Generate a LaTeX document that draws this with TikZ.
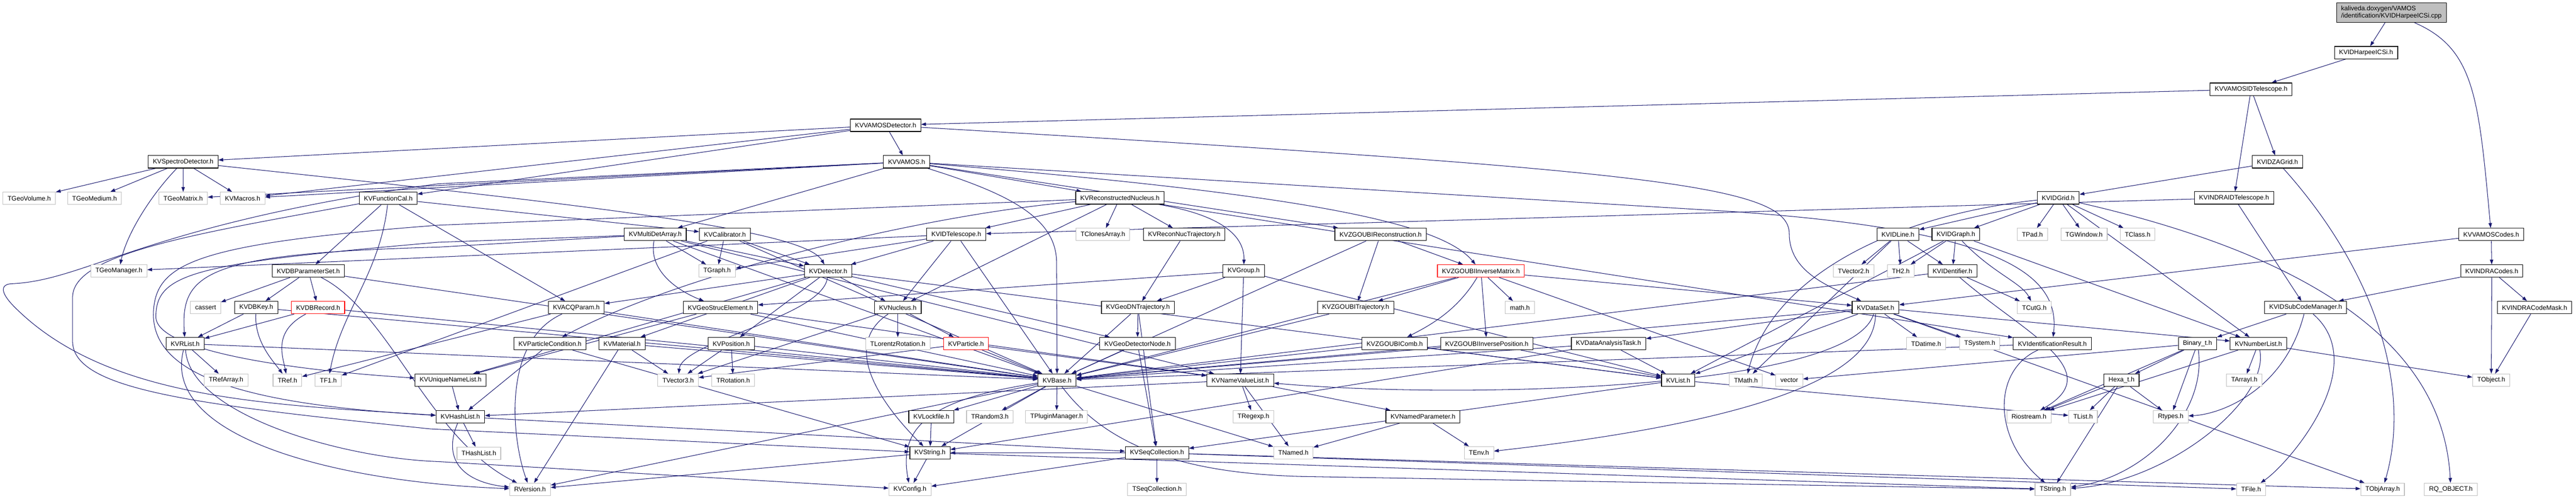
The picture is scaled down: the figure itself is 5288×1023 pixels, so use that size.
\documentclass[tikz,border=0pt]{standalone}
\usepackage{fontspec}
\setmainfont{Liberation Sans}
\definecolor{edgeblue}{HTML}{191970}
\definecolor{extgray}{HTML}{BFBFBF}
\usetikzlibrary{arrows.meta, backgrounds}

\begin{document}
\begin{tikzpicture}[
    x=1pt, y=-1pt,
    docbox/.style={
      rectangle, draw=black, line width=1.2pt, fill=white,
      minimum height=25.5pt, inner xsep=9.5pt, inner ysep=0pt,
      font=\fontsize{13.3}{15}\selectfont
    },
    extbox/.style={docbox, draw=extgray},
    cutbox/.style={docbox, draw=red},
    srcbox/.style={docbox, fill=extgray, align=left, minimum height=40pt},
    dep/.style={->, draw=edgeblue, line width=1.1pt},
    >={Triangle[length=10pt, width=7pt]}
  ]
    \useasboundingbox (0,0) rectangle (5288,1023);

    \node[srcbox] (root) at (4909,26) {kaliveda.doxygen/VAMOS\\/identification/KVIDHarpeeICSi.cpp};
    \node[docbox] (hcsi)       at (4857,108) {KVIDHarpeeICSi.h};
    \node[docbox] (vidtel)     at (4621,183) {KVVAMOSIDTelescope.h};
    \node[docbox] (zagrid)     at (4675,332) {KVIDZAGrid.h};
    \node[docbox] (indratel)   at (4586,406) {KVINDRAIDTelescope.h};
    \node[docbox] (vcodes)     at (5114,481) {KVVAMOSCodes.h};
    \node[docbox] (indracodes) at (5115,556) {KVINDRACodes.h};
    \node[docbox] (idsubcode)  at (4733,631) {KVIDSubCodeManager.h};
    \node[docbox] (codemask)   at (5203,631) {KVINDRACodeMask.h};
    \node[docbox] (binary)     at (4511,705) {Binary\_t.h};
    \node[docbox] (numlist)    at (4636,705) {KVNumberList.h};
    \node[extbox] (tarrayi)    at (4607,780) {TArrayI.h};
    \node[extbox] (tobject)    at (5114,780) {TObject.h};
    \node[extbox] (rtypes)     at (4456,855) {Rtypes.h};
    \node[extbox] (tfile)      at (4621,1004) {TFile.h};
    \node[extbox] (tobjarray)  at (4891,1004) {TObjArray.h};
    \node[extbox] (rqobject)   at (5031,1004) {RQ\_OBJECT.h};

    \node[docbox] (idgrid)     at (4225,406) {KVIDGrid.h};
    \node[docbox] (idline)     at (3896,481) {KVIDLine.h};
    \node[docbox] (idgraph)    at (4015,481) {KVIDGraph.h};
    \node[extbox] (tpad)       at (4172,481) {TPad.h};
    \node[extbox] (tgwindow)   at (4278,481) {TGWindow.h};
    \node[extbox] (tclass)     at (4388,481) {TClass.h};
    \node[extbox] (tvector2)   at (3805,556) {TVector2.h};
    \node[extbox] (th2)        at (3902,556) {TH2.h};
    \node[docbox] (identifier) at (4008,556) {KVIDentifier.h};
    \node[docbox] (dataset)    at (3850,631) {KVDataSet.h};
    \node[extbox] (tcutg)      at (4176,631) {TCutG.h};
    \node[extbox] (tdatime)    at (3954,705) {TDatime.h};
    \node[extbox] (tsystem)    at (4064,705) {TSystem.h};
    \node[docbox] (idresult)   at (4213,705) {KVIdentificationResult.h};
    \node[extbox] (tmath)      at (3584,780) {TMath.h};
    \node[extbox] (vector)     at (3673,780) {vector};
    \node[docbox] (hexa)       at (4355,780) {Hexa\_t.h};
    \node[extbox] (riostream)  at (4165,855) {Riostream.h};
    \node[extbox] (tlist)      at (4276,855) {TList.h};
    \node[extbox] (tstring)    at (4214,1004) {TString.h};

    \node[docbox] (zgoubirec)  at (2834,481) {KVZGOUBIReconstruction.h};
    \node[cutbox] (zgoubimat)  at (3040,556) {KVZGOUBIInverseMatrix.h};
    \node[docbox] (zgoubitraj) at (2783,631) {KVZGOUBITrajectory.h};
    \node[extbox] (mathh)      at (3120,631) {math.h};
    \node[docbox] (zgoubicomb) at (2863,705) {KVZGOUBIComb.h};
    \node[docbox] (zgoubipos)  at (3052,705) {KVZGOUBIInversePosition.h};
    \node[docbox] (datask)     at (3302,705) {KVDataAnalysisTask.h};
    \node[docbox] (kvlist)     at (3445,780) {KVList.h};
    \node[docbox] (namedpar)   at (2921,855) {KVNamedParameter.h};
    \node[extbox] (tenv)       at (3036,929) {TEnv.h};
    \node[extbox] (tnamed)     at (2655,929) {TNamed.h};

    \node[docbox] (vdet)       at (1818,257) {KVVAMOSDetector.h};
    \node[docbox] (vamos)      at (1861,332) {KVVAMOS.h};
    \node[docbox] (recnuc)     at (2299,406) {KVReconstructedNucleus.h};
    \node[docbox] (idtel)      at (1963,481) {KVIDTelescope.h};
    \node[extbox] (tclones)    at (2264,481) {TClonesArray.h};
    \node[docbox] (recnuctraj) at (2431,481) {KVReconNucTrajectory.h};
    \node[docbox] (group)      at (2553,556) {KVGroup.h};
    \node[docbox] (nucleus)    at (1843,631) {KVNucleus.h};
    \node[docbox] (geodntraj)  at (2336,631) {KVGeoDNTrajectory.h};
    \node[extbox] (tlorentz)   at (1843,705) {TLorentzRotation.h};
    \node[cutbox] (particle)   at (1983,705) {KVParticle.h};
    \node[docbox] (geodetnode) at (2335,705) {KVGeoDetectorNode.h};
    \node[docbox] (base)       at (2170,780) {KVBase.h};
    \node[docbox] (namevalue)  at (2546,780) {KVNameValueList.h};
    \node[docbox] (lockfile)   at (1912,855) {KVLockfile.h};
    \node[extbox] (trandom)    at (2032,855) {TRandom3.h};
    \node[extbox] (tplugin)    at (2169,855) {TPluginManager.h};
    \node[extbox] (tregexp)    at (2573,855) {TRegexp.h};
    \node[docbox] (kvstring)   at (1909,929) {KVString.h};
    \node[docbox] (seqcoll)    at (2375,929) {KVSeqCollection.h};
    \node[extbox] (kvconfig)   at (1868,1004) {KVConfig.h};
    \node[extbox] (tseqcoll)   at (2375,1004) {TSeqCollection.h};

    \node[docbox] (spectro)    at (376,332) {KVSpectroDetector.h};
    \node[extbox] (geovol)     at (60,407) {TGeoVolume.h};
    \node[extbox] (geomed)     at (194,407) {TGeoMedium.h};
    \node[extbox] (geomat)     at (376,407) {TGeoMatrix.h};
    \node[extbox] (macros)     at (498,407) {KVMacros.h};
    \node[docbox] (funccal)    at (797,407) {KVFunctionCal.h};
    \node[extbox] (geoman)     at (244,556) {TGeoManager.h};
    \node[docbox] (dbparam)    at (633,556) {KVDBParameterSet.h};
    \node[extbox] (cassert)    at (422,631) {cassert};
    \node[docbox] (dbkey)      at (526,631) {KVDBKey.h};
    \node[cutbox] (dbrecord)   at (653,631) {KVDBRecord.h};
    \node[docbox] (rlist)      at (380,705) {KVRList.h};
    \node[extbox] (trefarray)  at (464,780) {TRefArray.h};
    \node[extbox] (tref)       at (590,780) {TRef.h};
    \node[extbox] (tf1)        at (674,780) {TF1.h};
    \node[docbox] (uniqnl)     at (925,780) {KVUniqueNameList.h};
    \node[docbox] (hashlist)   at (945,855) {KVHashList.h};
    \node[extbox] (thashlist)  at (983,930) {THashList.h};
    \node[extbox] (rversion)   at (1088,1004) {RVersion.h};
    \node[docbox] (multidet)   at (1345,481) {KVMultiDetArray.h};
    \node[docbox] (calib)      at (1488,481) {KVCalibrator.h};
    \node[extbox] (tgraph)     at (1472,556) {TGraph.h};
    \node[docbox] (detector)   at (1700,556) {KVDetector.h};
    \node[docbox] (acqparam)   at (1183,631) {KVACQParam.h};
    \node[docbox] (geostruc)   at (1479,631) {KVGeoStrucElement.h};
    \node[docbox] (partcond)   at (1129,705) {KVParticleCondition.h};
    \node[docbox] (material)   at (1277,705) {KVMaterial.h};
    \node[docbox] (position)   at (1501,705) {KVPosition.h};
    \node[extbox] (tvector3)   at (1392,780) {TVector3.h};
    \node[extbox] (trotation)  at (1505,780) {TRotation.h};

    \begin{scope}[on background layer]
    \fill[white] (0,0) rectangle (5288,1023);

    \draw[dep] (root) -- (hcsi);
    \draw[dep] (root) .. controls (5080,100) and (5088,200) .. (vcodes);
    \draw[dep] (hcsi) -- (vidtel);
    \draw[dep] (vidtel) -- (vdet);
    \draw[dep] (vidtel) -- (zagrid);
    \draw[dep] (vidtel) -- (indratel);
    \draw[dep] (zagrid) -- (idgrid);
    \draw[dep] (zagrid) .. controls (4880,560) and (4950,800) .. (tobjarray);
    \draw[dep] (indratel) -- (idtel);
    \draw[dep] (indratel) -- (idsubcode);
    \draw[dep] (vcodes) -- (indracodes);
    \draw[dep] (vcodes) -- (dataset);
    \draw[dep] (indracodes) -- (idsubcode);
    \draw[dep] (indracodes) -- (tobject);
    \draw[dep] (indracodes) -- (codemask);
    \draw[dep] (codemask) -- (tobject);
    \draw[dep] (idsubcode) -- (binary);
    \draw[dep] (idsubcode) .. controls (4690,800) and (4560,850) .. (rtypes);
    \draw[dep] (idsubcode) .. controls (4870,750) and (4700,950) .. (tfile);
    \draw[dep] (binary) -- (rtypes);
    \draw[dep] (binary) -- (hexa);
    \draw[dep] (binary) .. controls (4530,850) and (4400,980) .. (tstring);
    \draw[dep] (binary) -- (vector);
    \draw[dep] (binary) -- (riostream);
    \draw[dep] (numlist) -- (tarrayi);
    \draw[dep] (numlist) -- (tobject);
    \draw[dep] (numlist) .. controls (4660,820) and (4450,990) .. (tstring);
    \draw[dep] (numlist) -- (riostream);
    \draw[dep] (hexa) -- (riostream);
    \draw[dep] (hexa) -- (tstring);
    \draw[dep] (hexa) -- (rtypes);
    \draw[dep] (hexa) -- (tlist);

    \draw[dep] (idgrid) -- (idline);
    \draw[dep] (idgrid) -- (idgraph);
    \draw[dep] (idgrid) -- (tpad);
    \draw[dep] (idgrid) -- (tgwindow);
    \draw[dep] (idgrid) -- (tclass);
    \draw[dep] (idgrid) -- (numlist);
    \draw[dep] (idgrid) .. controls (4900,560) and (5020,800) .. (rqobject);
    \draw[dep] (idgrid) .. controls (3900,440) and (3640,560) .. (tmath);
    \draw[dep] (idline) -- (tvector2);
    \draw[dep] (idline) -- (th2);
    \draw[dep] (idline) -- (identifier);
    \draw[dep] (idline) -- (tmath);
    \draw[dep] (idgraph) -- (th2);
    \draw[dep] (idgraph) -- (identifier);
    \draw[dep] (idgraph) .. controls (4090,560) and (4150,580) .. (tcutg);
    \draw[dep] (idgraph) -- (numlist);
    \draw[dep] (idgraph) -- (kvlist);
    \draw[dep] (identifier) -- (tcutg);
    \draw[dep] (identifier) -- (base);
    \draw[dep] (identifier) .. controls (4150,680) and (4330,760) .. (riostream);
    \draw[dep] (dataset) -- (tdatime);
    \draw[dep] (dataset) -- (tsystem);
    \draw[dep] (dataset) -- (datask);
    \draw[dep] (dataset) -- (kvlist);
    \draw[dep] (dataset) -- (base);
    \draw[dep] (dataset) -- (numlist);
    \draw[dep] (dataset) .. controls (3850,760) and (3650,860) .. (tenv);
    \draw[dep] (dataset) .. controls (3800,800) and (3000,820) .. (namevalue);
    \draw[dep] (dataset) -- (tobjarray);
    \draw[dep] (idresult) .. controls (4090,760) and (4090,900) .. (tstring);
    \draw[dep] (idresult) -- (base);

    \draw[dep] (zgoubirec) -- (zgoubitraj);
    \draw[dep] (zgoubirec) -- (zgoubimat);
    \draw[dep] (zgoubirec) -- (base);
    \draw[dep] (zgoubimat) -- (zgoubitraj);
    \draw[dep] (zgoubimat) -- (mathh);
    \draw[dep] (zgoubimat) .. controls (2990,640) and (2930,670) .. (zgoubicomb);
    \draw[dep] (zgoubimat) -- (zgoubipos);
    \draw[dep] (zgoubimat) -- (vector);
    \draw[dep] (zgoubimat) -- (dataset);
    \draw[dep] (zgoubimat) -- (base);
    \draw[dep] (zgoubitraj) -- (base);
    \draw[dep] (zgoubicomb) -- (base);
    \draw[dep] (zgoubicomb) -- (kvlist);
    \draw[dep] (zgoubipos) -- (base);
    \draw[dep] (zgoubipos) -- (kvlist);
    \draw[dep] (datask) -- (kvlist);
    \draw[dep] (datask) -- (base);
    \draw[dep] (datask) -- (kvstring);
    \draw[dep] (kvlist) -- (seqcoll);
    \draw[dep] (kvlist) -- (tlist);
    \draw[dep] (namedpar) -- (tnamed);
    \draw[dep] (namedpar) -- (tenv);
    \draw[dep] (namevalue) -- (namedpar);
    \draw[dep] (namevalue) -- (tregexp);
    \draw[dep] (namevalue) -- (tnamed);
    \draw[dep] (namevalue) -- (hashlist);
    \draw[dep] (seqcoll) -- (tseqcoll);
    \draw[dep] (seqcoll) -- (kvconfig);
    \draw[dep] (seqcoll) -- (kvstring);
    \draw[dep] (seqcoll) -- (tfile);
    \draw[dep] (seqcoll) -- (tobjarray);
    \draw[dep] (kvstring) -- (kvconfig);
    \draw[dep] (kvstring) -- (tstring);
    \draw[dep] (kvstring) -- (rversion);

    \draw[dep] (base) -- (rversion);
    \draw[dep] (base) .. controls (1900,820) and (1845,880) .. (kvconfig);
    \draw[dep] (base) -- (lockfile);
    \draw[dep] (base) -- (trandom);
    \draw[dep] (base) -- (tplugin);
    \draw[dep] (base) -- (tnamed);
    \draw[dep] (base) -- (kvstring);
    \draw[dep] (base) .. controls (2260,900) and (2400,975) .. (2700,978) -- (tstring);
    \draw[dep] (lockfile) -- (kvstring);
    \draw[dep] (hashlist) -- (seqcoll);
    \draw[dep] (hashlist) -- (thashlist);
    \draw[dep] (hashlist) .. controls (905,950) and (960,990) .. (rversion);
    \draw[dep] (uniqnl) -- (hashlist);
    \draw[dep] (rlist) -- (trefarray);
    \draw[dep] (rlist) .. controls (330,900) and (700,990) .. (rversion);
    \draw[dep] (rlist) .. controls (390,850) and (700,940) .. (900,947) -- (kvconfig);
    \draw[dep] (rlist) -- (base);
    \draw[dep] (dbkey) -- (rlist);
    \draw[dep] (dbkey) .. controls (522,700) and (560,740) .. (tref);
    \draw[dep] (dbkey) -- (base);
    \draw[dep] (dbrecord) -- (rlist);
    \draw[dep] (dbrecord) .. controls (560,680) and (580,730) .. (tref);
    \draw[dep] (dbrecord) -- (base);
    \draw[dep] (dbparam) -- (cassert);
    \draw[dep] (dbparam) -- (dbkey);
    \draw[dep] (dbparam) -- (dbrecord);
    \draw[dep] (dbparam) -- (base);
    \draw[dep] (dbparam) .. controls (800,640) and (880,900) .. (rversion);
    \draw[dep] (funccal) -- (dbparam);
    \draw[dep] (funccal) .. controls (780,560) and (700,640) .. (tf1);
    \draw[dep] (funccal) -- (calib);
    \draw[dep] (funccal) -- (acqparam);
    \draw[dep] (funccal) .. controls (400,480) and (149,520) .. (149,610) -- (149,700) .. controls (149,800) and (400,830) .. (884,880) -- (kvstring);

    \draw[dep] (spectro) -- (geovol);
    \draw[dep] (spectro) -- (geomed);
    \draw[dep] (spectro) -- (geomat);
    \draw[dep] (spectro) -- (macros);
    \draw[dep] (spectro) .. controls (310,400) and (260,480) .. (geoman);
    \draw[dep] (spectro) .. controls (1200,420) and (1650,470) .. (detector);
    \draw[dep] (vdet) -- (spectro);
    \draw[dep] (vdet) -- (vamos);
    \draw[dep] (vdet) -- (funccal);
    \draw[dep] (vdet) -- (macros);
    \draw[dep] (vdet) .. controls (3400,350) and (3673,380) .. (3673,480) .. controls (3673,560) and (3760,590) .. (dataset);
    \draw[dep] (vamos) -- (multidet);
    \draw[dep] (vamos) -- (recnuc);
    \draw[dep] (vamos) .. controls (2080,400) and (2169,450) .. (2169,540) -- (base);
    \draw[dep] (vamos) -- (geomat);
    \draw[dep] (vamos) -- (macros);
    \draw[dep] (vamos) -- (zgoubirec);
    \draw[dep] (vamos) .. controls (2700,400) and (2960,460) .. (zgoubimat);
    \draw[dep] (vamos) -- (3540,433) .. controls (4100,470) and (4230,560) .. (idresult);
    \draw[dep] (vamos) -- (900,377) .. controls (300,460) and (180,575) .. (25,582) .. controls (0,583) and (0,600) .. (30,630) .. controls (220,820) and (550,830) .. (hashlist);

    \draw[dep] (multidet) -- (detector);
    \draw[dep] (multidet) -- (tgraph);
    \draw[dep] (multidet) .. controls (1330,560) and (1400,600) .. (geostruc);
    \draw[dep] (multidet) -- (900,497) .. controls (400,540) and (320,560) .. (320,650) .. controls (320,720) and (600,760) .. (uniqnl);
    \draw[dep] (multidet) -- (900,507) .. controls (420,520) and (370,560) .. (rlist);
    \draw[dep] (multidet) -- (namevalue);
    \draw[dep] (multidet) -- (base);
    \draw[dep] (calib) -- (detector);
    \draw[dep] (calib) -- (tgraph);
    \draw[dep] (calib) -- (base);
    \draw[dep] (calib) -- (tf1);
    \draw[dep] (detector) -- (material);
    \draw[dep] (detector) -- (position);
    \draw[dep] (detector) -- (acqparam);
    \draw[dep] (detector) -- (nucleus);
    \draw[dep] (detector) -- (geodetnode);
    \draw[dep] (detector) -- (uniqnl);
    \draw[dep] (detector) -- (kvlist);
    \draw[dep] (detector) .. controls (1690,650) and (1400,700) .. (tvector3);
    \draw[dep] (idtel) -- (detector);
    \draw[dep] (idtel) -- (tgraph);
    \draw[dep] (idtel) -- (geoman);
    \draw[dep] (idtel) -- (base);
    \draw[dep] (idtel) -- (nucleus);
    \draw[dep] (recnuc) -- (idtel);
    \draw[dep] (recnuc) -- (tclones);
    \draw[dep] (recnuc) -- (recnuctraj);
    \draw[dep] (recnuc) -- (nucleus);
    \draw[dep] (recnuc) .. controls (2500,440) and (2555,480) .. (group);
    \draw[dep] (recnuc) .. controls (1900,440) and (1400,560) .. (partcond);
    \draw[dep] (recnuc) -- (idresult);
    \draw[dep] (recnuc) -- (900,462) .. controls (400,500) and (320,540) .. (315,640) .. controls (310,770) and (500,830) .. (hashlist);
    \draw[dep] (recnuctraj) -- (geodntraj);
    \draw[dep] (group) -- (geostruc);
    \draw[dep] (group) -- (geodntraj);
    \draw[dep] (group) -- (namevalue);
    \draw[dep] (group) -- (kvlist);
    \draw[dep] (nucleus) -- (particle);
    \draw[dep] (nucleus) -- (tlorentz);
    \draw[dep] (nucleus) .. controls (1740,700) and (1780,800) .. (kvstring);
    \draw[dep] (nucleus) -- (tvector3);
    \draw[dep] (geodntraj) -- (geodetnode);
    \draw[dep] (geodntraj) -- (base);
    \draw[dep] (geodntraj) -- (seqcoll);
    \draw[dep] (geodetnode) -- (base);
    \draw[dep] (geodetnode) -- (seqcoll);
    \draw[dep] (particle) -- (base);
    \draw[dep] (particle) -- (tvector3);
    \draw[dep] (particle) -- (namevalue);
    \draw[dep] (partcond) -- (hashlist);
    \draw[dep] (partcond) -- (kvstring);
    \draw[dep] (material) -- (tvector3);
    \draw[dep] (material) -- (rversion);
    \draw[dep] (material) -- (base);
    \draw[dep] (position) -- (tvector3);
    \draw[dep] (position) -- (trotation);
    \draw[dep] (position) -- (base);
    \draw[dep] (acqparam) -- (base);
    \draw[dep] (acqparam) -- (tref);
    \draw[dep] (acqparam) .. controls (1030,700) and (1050,900) .. (rversion);
    \draw[dep] (geostruc) -- (base);
    \draw[dep] (geostruc) -- (uniqnl);
    \draw[dep] (geostruc) -- (namevalue);
    \end{scope}
  \end{tikzpicture}
\end{document}
